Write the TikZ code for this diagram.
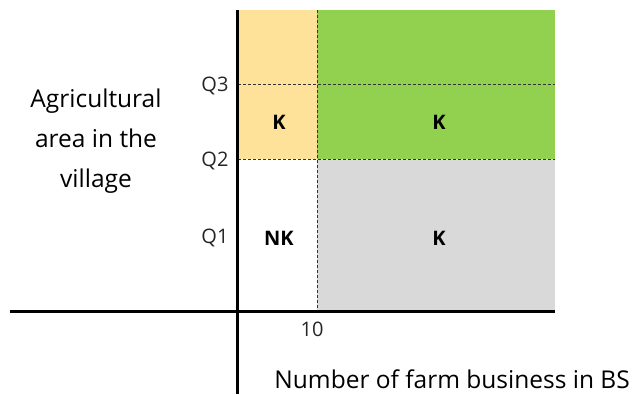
\documentclass[tikz,border=0pt]{standalone}
\usepackage{fontspec}
\setmainfont{Open Sans}
\definecolor{areayellow}{RGB}{255,226,153}
\definecolor{areagreen}{RGB}{146,208,80}
\definecolor{areagrey}{RGB}{217,217,217}
\tikzset{
  gridline/.style={black!80, line width=0.9pt, dash pattern=on 3pt off 2pt},
  axisline/.style={black, line width=3pt},
  cellnode/.style={font=\fontsize{20}{24}\selectfont\bfseries},
  ticknode/.style={font=\fontsize{20}{24}\selectfont, text=black!85}
}
\begin{document}
\begin{tikzpicture}[x=1pt, y=-1pt]
\useasboundingbox (0, 0) rectangle (632, 394);

% draw the coloured areas
\fill[areayellow] (238, 10) rectangle (317, 159);
\fill[areagreen] (317, 10) rectangle (555, 159);
\fill[areagrey] (317, 159) rectangle (555, 310);

% draw the dashed lines
\draw[gridline] (317, 10) -- (317, 310);
\draw[gridline] (238, 84) -- (555, 84);
\draw[gridline] (238, 159) -- (555, 159);

% draw the axes
\draw[axisline] (237, 10) -- (237, 394);
\draw[axisline] (10, 311) -- (555, 311);

% draw the cell labels
\node[cellnode] (kyellow) at (279, 122) {K};
\node[cellnode] (kgreen) at (439, 122) {K};
\node[cellnode] (nk) at (279, 238) {NK};
\node[cellnode] (kgrey) at (439, 238) {K};

% draw the tick labels
\node[ticknode, anchor=east] (q3) at (232, 86) {Q3};
\node[ticknode, anchor=east] (q2) at (232, 161) {Q2};
\node[ticknode, anchor=east] (q1) at (232, 238) {Q1};
\node[ticknode] (ten) at (312, 329) {10};

% draw the axis titles
\node[font=\fontsize{24.5}{40}\selectfont, align=center] (ytitle) at (96, 141)
  {Agricultural\\area in the\\village};
\node[font=\fontsize{24.5}{28}\selectfont, anchor=east, inner sep=0pt] (xtitle) at (630, 379)
  {Number of farm business in BS};

\end{tikzpicture}
\end{document}
